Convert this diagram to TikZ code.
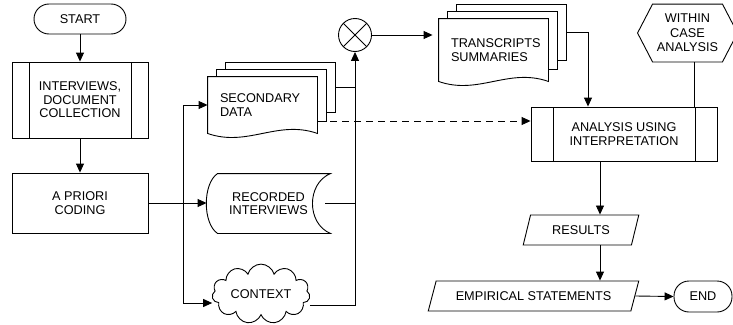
\documentclass[tikz,border=0pt]{standalone}
\usepackage{fontspec}
\setmainfont{Liberation Sans}
\usetikzlibrary{shapes.geometric, shapes.symbols, arrows.meta}

\tikzstyle{startstop} = [rectangle, rounded corners=15pt, minimum width=92, minimum height=30, draw=black]
\tikzstyle{process} = [rectangle, minimum width=136, minimum height=60, align=center, draw=black]
\tikzstyle{io} = [trapezium, trapezium stretches=true, minimum height=30, draw=black]
\tikzstyle{doc} = [rectangle, align=left, inner xsep=12pt]
\tikzstyle{stored} = [rectangle, minimum width=123, minimum height=59, align=center]
\tikzstyle{hexa} = [rectangle, minimum width=99, minimum height=57, align=center]
\tikzstyle{arrow} = [-{Triangle[length=9pt,width=8pt]}]
\tikzset{predef/.style={rectangle, align=center, draw=black,
    path picture={\draw ([xshift=#1]path picture bounding box.north west) -- ([xshift=#1]path picture bounding box.south west);
                  \draw ([xshift=-#1]path picture bounding box.north east) -- ([xshift=-#1]path picture bounding box.south east);}}}

% stacked documents, front sheet with a wavy bottom
\newcommand{\drawdocs}[1]{%
  \draw ([shift={(18,-7)}]#1.north west) -- ([shift={(18,-14)}]#1.north west) -- ([shift={(18,-14)}]#1.north east)
        -- ([shift={(18,-21)}]#1.south east) -- ([shift={(9,-21)}]#1.south east);
  \draw ([shift={(9,0)}]#1.north west) -- ([shift={(9,-7)}]#1.north west) -- ([shift={(9,-7)}]#1.north east)
        -- ([shift={(9,-12)}]#1.south east) -- ([shift={(0,-12)}]#1.south east);
  \draw (#1.north west) -- (#1.north east) -- (#1.south east)
        .. controls +(-40,-14) and +(40,14) .. (#1.south west) -- cycle;}
% stored data
\newcommand{\drawstored}[1]{%
  \draw ([shift={(11,0)}]#1.north west) -- (#1.north east)
        .. controls +(-24,10) and +(-24,-10) .. (#1.south east)
        -- ([shift={(11,0)}]#1.south west)
        .. controls +(-15,-10) and +(-15,10) .. cycle;}
% preparation
\newcommand{\drawhexa}[1]{%
  \draw (#1.west) -- ([shift={(15,0)}]#1.north west) -- ([shift={(-15,0)}]#1.north east) -- (#1.east)
        -- ([shift={(-15,0)}]#1.south east) -- ([shift={(15,0)}]#1.south west) -- cycle;}

\begin{document}
\begin{tikzpicture}[x=1pt, y=-1pt, line width=0.9pt, inner sep=0pt,
    font=\fontsize{12.7}{13.6}\selectfont]
\useasboundingbox (0,0) rectangle (733,324);

\node (start) [startstop] at (80,19) {START};
\node (intv) [predef=17, minimum width=136, minimum height=76] at (80,100) {INTERVIEWS,\\DOCUMENT\\COLLECTION};
\node (prior) [process] at (80,203) {A PRIORI\\CODING};

\node (sec) [doc, minimum width=109, minimum height=56, text width=85] at (262.5,105) {SECONDARY\\DATA};
\drawdocs{sec}
\node (rec) [stored] at (268.5,203.5) {RECORDED\\INTERVIEWS};
\drawstored{rec}
\node (ctx) [cloud, cloud puffs=11, aspect=2, minimum width=98, minimum height=48, draw=black] at (261,294) {CONTEXT};

\node (mix) [circle, minimum size=33, draw=black,
    path picture={\draw (path picture bounding box.north west) -- (path picture bounding box.south east)
                        (path picture bounding box.north east) -- (path picture bounding box.south west);}] at (355,35) {};
\node (trans) [doc, minimum width=109, minimum height=62, text width=85] at (493.5,50) {TRANSCRIPTS\\SUMMARIES};
\drawdocs{trans}
\node (wca) [hexa, font=\fontsize{12.7}{14.5}\selectfont] at (687.5,33) {WITHIN\\CASE\\ANALYSIS};
\drawhexa{wca}

\node (ana) [predef=22, minimum width=186, minimum height=54] at (624,134) {ANALYSIS USING\\INTERPRETATION};
\node (res) [io, trapezium left angle=65, trapezium right angle=115, minimum width=116] at (581,230) {RESULTS};
\node (emp) [io, trapezium left angle=55, trapezium right angle=125, minimum width=211] at (533.5,296) {EMPIRICAL STATEMENTS};
\node (end) [startstop, minimum width=58, minimum height=31] at (703,296.5) {END};

\draw [arrow] (start) -- (intv);
\draw [arrow] (intv) -- (prior);
\draw [arrow] (prior.east) -- (prior.east -| rec.west);

\coordinate (split) at (183,203);
\draw [arrow] (split) |- (sec.west);
\draw [arrow] (split) |- ([shift={(0,9)}]ctx.west);

% everything is collected on one line up to the junction
\coordinate (secout) at ([shift={(18,-18)}]sec.east);
\draw (secout) -- (secout -| mix);
\draw ([shift={(-5,0)}]rec.east) -- (rec.east -| mix);
\draw [arrow] ([shift={(0,11)}]ctx.east) -| (mix.south);
\draw [arrow, shorten >=6pt] (mix) -- (mix -| trans.west);

\coordinate (transout) at ([shift={(19,-18)}]trans.east);
\draw [arrow] (transout) -| ([shift={(-36,0)}]ana.north);
\coordinate (dashout) at ([shift={(13,16)}]sec.east);
\draw [arrow, dash pattern=on 7pt off 5pt] (dashout) -- (dashout -| ana.west);
\coordinate (wcaout) at ([shift={(6.5,0)}]wca.south);
\draw (wcaout) -- (wcaout |- ana.north);

\coordinate (anaout) at ([shift={(-24,0)}]ana.south);
\draw [arrow] (anaout) -- (anaout |- res.north);
\coordinate (resout) at (anaout |- res.south);
\draw [arrow] (resout) -- (resout |- emp.north);
\draw [arrow] (emp.east) -- (end.west);

\end{tikzpicture}
\end{document}
